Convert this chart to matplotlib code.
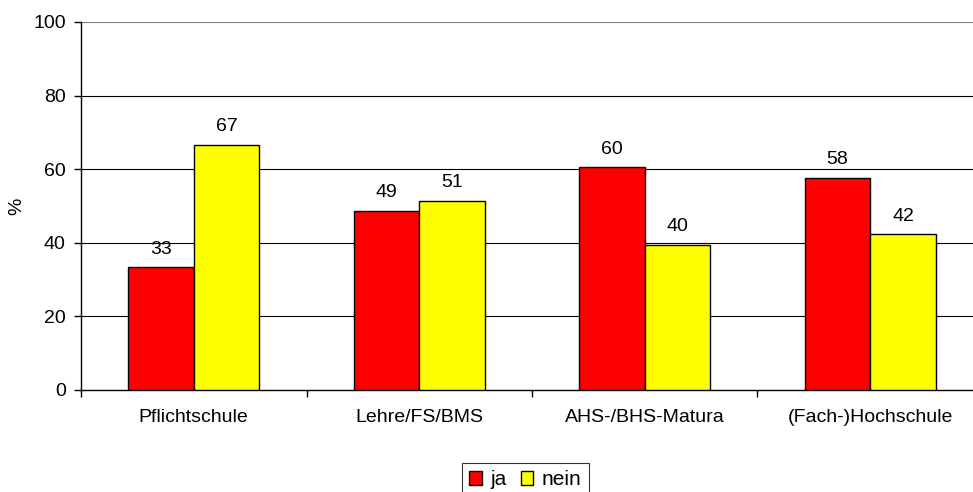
import matplotlib
matplotlib.use("Agg")
import matplotlib.pyplot as plt
import numpy as np
from matplotlib.patches import Patch

categories = ["Pflichtschule", "Lehre/FS/BMS", "AHS-/BHS-Matura", "(Fach-)Hochschule"]
ja = [33.3, 48.7, 60.5, 57.7]
nein = [66.7, 51.3, 39.5, 42.3]
series_names = ["ja", "nein"]
yticks = [0, 20, 40, 60, 80, 100]

plt.rcParams['font.family'] = ['Liberation Sans', 'DejaVu Sans']
FS = 14

W, H = 973, 492
fig = plt.figure(figsize=(W/100, H/100), dpi=100)
left, right, top, bottom = 81, 983, 22, 390
ax = fig.add_axes([left/W, 1-bottom/H, (right-left)/W, (bottom-top)/H])

x = np.arange(len(categories))
bw = 0.29
b1 = ax.bar(x - bw/2, ja, bw, color='#ff0000', edgecolor='black', linewidth=1.0, zorder=3)
b2 = ax.bar(x + bw/2, nein, bw, color='#ffff00', edgecolor='black', linewidth=1.0, zorder=3)

for bars, vals in ((b1, ja), (b2, nein)):
    for rect, v in zip(bars, vals):
        ax.annotate(f"{v:.0f}", (rect.get_x() + rect.get_width()/2, v),
                    xytext=(0, 7), textcoords='offset points',
                    ha='center', va='bottom', fontsize=FS, color='black')

ax.set_xlim(-0.5, len(categories) - 0.5)
ax.set_ylim(0, 100)
ax.set_yticks(yticks)
ax.set_yticklabels([str(t) for t in yticks], fontsize=FS)
for t in yticks[1:-1]:
    ax.axhline(t, color='black', linewidth=0.8, zorder=1)
ax.axhline(100, color='#808080', linewidth=1.5, zorder=1)

ax.set_xticks(x)
ax.set_xticklabels(categories, fontsize=FS)
ax.tick_params(axis='x', length=0, pad=14)
ax.set_xticks(np.arange(len(categories) + 1) - 0.5, minor=True)
ax.tick_params(axis='x', which='minor', length=5, width=1, color='black', direction='out')
ax.tick_params(axis='y', length=5, width=1, direction='out', pad=6)

for s in ['top', 'right']:
    ax.spines[s].set_visible(False)
ax.spines['left'].set_linewidth(1)
ax.spines['bottom'].set_linewidth(1)

ax.set_ylabel('%', fontsize=FS)
ax.yaxis.set_label_coords(-56/(right-left), 0.5)

handles = [Patch(facecolor='#ff0000', edgecolor='black'),
           Patch(facecolor='#ffff00', edgecolor='black')]
leg = fig.legend(handles, series_names, loc='upper left',
                 bbox_to_anchor=(462/W, 1-463/H), ncol=2, fontsize=FS + 1,
                 frameon=True, fancybox=False, edgecolor='black',
                 handlelength=0.6, handleheight=0.6, handletextpad=0.4,
                 columnspacing=0.7, borderpad=0.35, borderaxespad=0)
leg.get_frame().set_linewidth(0.8)

fig.savefig('out.png', dpi=100)
